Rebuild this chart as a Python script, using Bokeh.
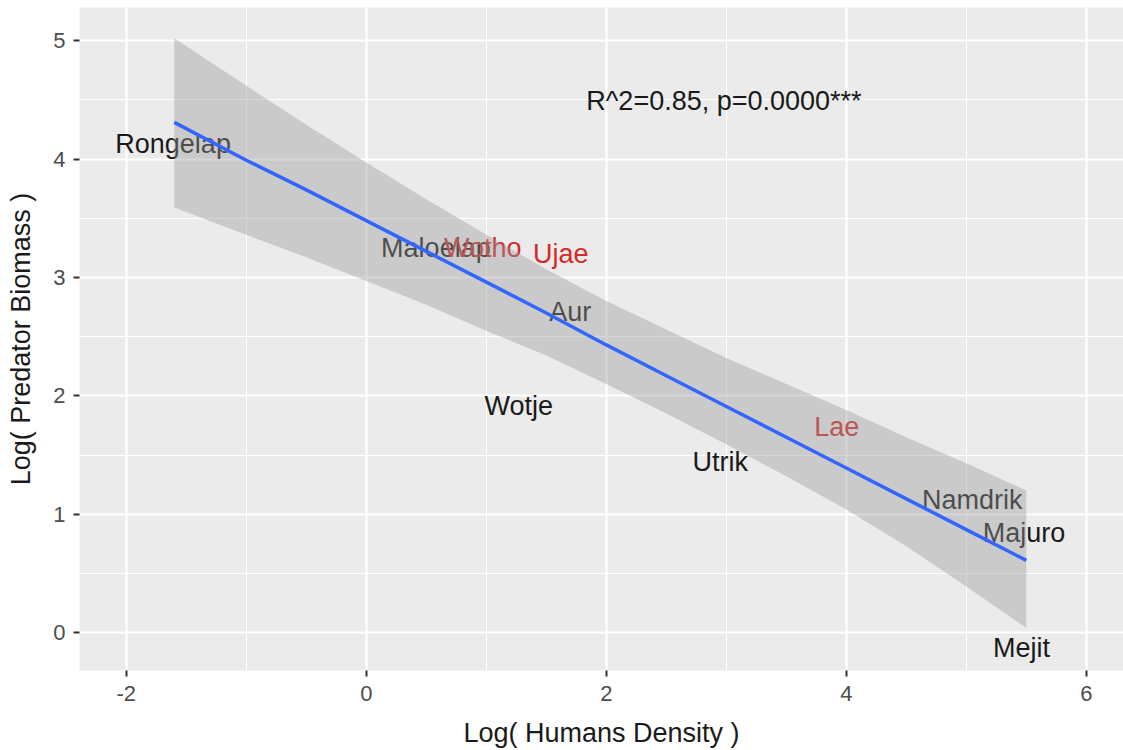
from bokeh.plotting import figure
from bokeh.models import Range1d, FixedTicker, ColumnDataSource
from bokeh.core.properties import value
from bokeh.embed import file_html
from bokeh.resources import INLINE

# ---- data ----
atolls = ["Rongelap", "Maloelap", "Wotho", "Ujae", "Aur", "Wotje",
          "Utrik", "Lae", "Namdrik", "Majuro", "Mejit"]
log_density = [-1.61, 0.58, 0.97, 1.62, 1.70, 1.27, 2.95, 3.92, 5.05, 5.48, 5.46]
log_biomass = [4.13, 3.25, 3.25, 3.20, 2.71, 1.91, 1.44, 1.74, 1.12, 0.84, -0.13]
group = ["other", "other", "west", "west", "other", "other",
         "other", "west", "other", "other", "other"]

fit_x = [-1.6, -1.0, -0.5, 0.0, 0.5, 1.0, 1.5, 2.0, 2.5, 3.0, 3.5, 4.0, 4.5, 5.0, 5.5]
fit_y = [4.31, 3.99, 3.74, 3.48, 3.22, 2.96, 2.70, 2.43, 2.17, 1.91, 1.65, 1.39, 1.13, 0.87, 0.61]
band_upper = [5.02, 4.62, 4.29, 3.97, 3.66, 3.36, 3.07, 2.80, 2.56, 2.32, 2.10, 1.88, 1.65, 1.43, 1.20]
band_lower = [3.59, 3.36, 3.17, 2.97, 2.77, 2.55, 2.34, 2.10, 1.85, 1.59, 1.32, 1.04, 0.73, 0.39, 0.04]

x_ticks = [-2, 0, 2, 4, 6]
x_tick_labels = ["-2", "0", "2", "4", "6"]
y_ticks = [0, 1, 2, 3, 4, 5]
stat_text = "R^2=0.85, p=0.0000***"
stat_pos = (2.98, 4.49)

colors = {"other": "#1a1a1a", "west": "#d42a2a"}
FONT = "Liberation Sans"

p = figure(width=1123, height=750, output_backend="svg", toolbar_location=None,
           x_range=Range1d(-2.39, 6.31), y_range=Range1d(-0.32, 5.28),
           min_border_left=79, min_border_right=0, min_border_top=7, min_border_bottom=79)

p.background_fill_color = "#EBEBEB"
p.border_fill_color = "white"
p.outline_line_color = None

p.xaxis.ticker = FixedTicker(ticks=x_ticks, minor_ticks=[-1, 1, 3, 5])
p.yaxis.ticker = FixedTicker(ticks=y_ticks, minor_ticks=[0.5, 1.5, 2.5, 3.5, 4.5])
p.xaxis.major_label_overrides = {t: s for t, s in zip(x_ticks, x_tick_labels)}

for g in (p.xgrid, p.ygrid):
    g.grid_line_color = "white"
    g.grid_line_width = 2
    g.minor_grid_line_color = "white"
    g.minor_grid_line_width = 1

for ax in (p.xaxis, p.yaxis):
    ax.axis_line_color = None
    ax.major_tick_line_color = "#333333"
    ax.major_tick_line_width = 2
    ax.major_tick_out = 6
    ax.major_tick_in = 0
    ax.minor_tick_line_color = None
    ax.major_label_text_font = FONT
    ax.major_label_text_font_size = "22px"
    ax.major_label_text_color = "#4D4D4D"
    ax.axis_label_text_font = FONT
    ax.axis_label_text_font_size = "27px"
    ax.axis_label_text_font_style = "normal"
    ax.axis_label_text_color = "#1a1a1a"

p.xaxis.axis_label = "Log( Humans Density )"
p.yaxis.axis_label = "Log( Predator Biomass )"
p.xaxis.major_label_standoff = 9
p.xaxis.axis_label_standoff = 14
p.yaxis.major_label_standoff = 8
p.yaxis.axis_label_standoff = 14

src = ColumnDataSource(dict(x=log_density, y=log_biomass, t=atolls,
                            c=[colors[g] for g in group]))
p.text(x="x", y="y", text="t", source=src, text_color="c",
       text_font=value(FONT), text_font_size="27px",
       text_align="center", text_baseline="middle")

p.text(x=[stat_pos[0]], y=[stat_pos[1]], text=[stat_text], text_color="#1a1a1a",
       text_font=value(FONT), text_font_size="27px",
       text_align="center", text_baseline="middle")

p.varea(x=fit_x, y1=band_lower, y2=band_upper, fill_color="#999999", fill_alpha=0.4)
p.line(x=fit_x, y=fit_y, line_color="#3366FF", line_width=3.5)

open("out.html", "w").write(file_html(p, INLINE))
